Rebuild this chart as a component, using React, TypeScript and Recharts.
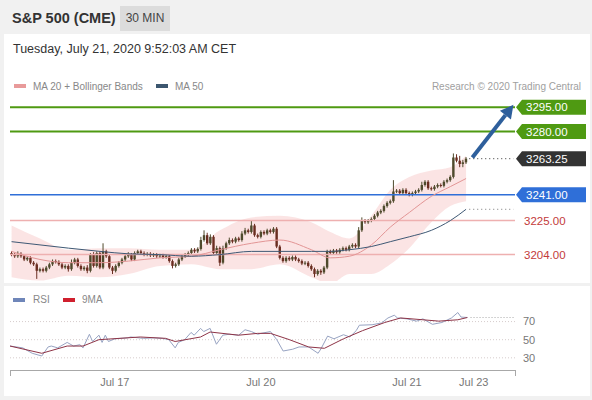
import React from "react";
import { Area, Bar, ComposedChart, Line, ReferenceLine, XAxis, YAxis } from "recharts";

// 30 min closes, S&P 500 futures, Jul 16 -> Jul 21 09:30
const closes = [
  3204, 3203, 3204.5, 3203, 3201, 3202, 3199, 3198, 3194, 3195,
  3194, 3196, 3198, 3200, 3199.5, 3198, 3196, 3197, 3195, 3199,
  3201, 3197, 3195, 3196, 3194, 3204, 3197, 3205, 3196, 3206,
  3203, 3196, 3194, 3197, 3199, 3201, 3203, 3204, 3201, 3205,
  3206, 3205, 3204, 3204.5, 3203.5, 3204, 3203, 3203.5, 3202.5, 3203,
  3200, 3197, 3198, 3201, 3203, 3204, 3205, 3207, 3206, 3207.5,
  3213, 3216, 3211, 3215, 3205, 3208, 3199, 3208, 3211, 3213,
  3212, 3214, 3213, 3217, 3219, 3218, 3222, 3216, 3215, 3218,
  3217, 3219, 3218, 3220, 3209, 3202, 3200, 3202, 3201, 3202.5,
  3201, 3200, 3198.5, 3199, 3197, 3195, 3192, 3194, 3193, 3196,
  3206, 3205, 3206.5, 3205.5, 3207, 3208, 3207, 3209, 3210, 3209,
  3219, 3225, 3224, 3225, 3226, 3228, 3230, 3231, 3234, 3236,
  3237, 3243, 3243.5, 3242, 3244, 3242, 3241, 3242, 3243, 3244,
  3247, 3249, 3245, 3244.5, 3246, 3247, 3246.5, 3249, 3250, 3252,
  3264, 3262, 3260, 3261, 3263.25,
];
const firstOpen = 3205;
const upWick = [
  1, 1, 1.5, 1, 1, 1, 1, 1, 1, 1,
  1, 1, 1, 1, 1, 1, 1, 1, 1, 2,
  1, 1, 1, 1, 1.5, 1, 1.5, 1, 1, 5,
  1, 1, 1, 1, 1, 1, 1, 1.5, 1, 1,
  1, 1, 1, 1, 1, 1, 1, 1, 1, 1,
  1, 1, 1, 1, 1, 1, 1, 1, 1, 1,
  2, 3, 1.5, 1.5, 1, 1.5, 1, 1.5, 1, 1.5,
  1, 1, 1, 1.5, 1.5, 1, 3, 1, 1, 1,
  1, 1, 1, 1, 1, 1, 1, 1, 1, 1,
  1, 1, 1, 1, 1, 1, 1, 1, 1, 1,
  1, 1, 1, 1, 1, 1, 1, 1, 1, 1,
  2, 2, 1, 1, 1, 1, 1, 1, 1, 1,
  1, 7, 1, 1, 1, 1, 1, 1, 1, 1,
  2, 1, 1, 1, 1, 1, 1, 1, 1, 1,
  2.5, 2, 3, 1.5, 1,
];
const downWick = [
  1, 1, 1, 1, 1, 1, 1, 1, 5, 1,
  1, 1, 1, 1, 1, 1, 1, 1, 1.5, 1,
  1, 1, 1, 1, 1.5, 1, 1, 1, 1, 1,
  1, 1, 2, 1, 1, 1, 1, 1, 1, 1,
  1, 1, 1, 1, 1, 1, 1, 1, 1, 1,
  1, 1.5, 1, 1, 1, 1, 1, 1, 1, 1,
  1, 1, 1, 1, 1, 1, 2, 1, 1, 1,
  1, 1, 1, 1, 1, 1, 1, 1, 1, 1,
  1, 1, 1, 1, 1, 1, 1, 1, 1, 1,
  1, 1, 1, 1, 1, 1, 2, 1, 1.5, 1,
  1, 1, 1, 1, 1, 1, 1, 1, 1, 1,
  1, 1, 1, 1, 1, 1, 1, 1, 1, 1,
  1, 1, 1, 1, 1, 1, 1, 1, 1, 1,
  1, 1, 1, 1, 1, 1, 1, 1, 1, 1,
  1, 1, 2, 2, 1,
];

// [bar index, value]
const ma20Pts = [
  [0, 3206], [9, 3201], [18, 3199], [28, 3199], [37, 3200], [47, 3202], [57, 3203],
  [66, 3207], [76, 3211], [85, 3213], [95, 3207], [101, 3202], [107, 3203], [114, 3210],
  [120, 3221], [126, 3230], [133, 3240], [139, 3246], [144, 3251],
];
const ma50Pts = [
  [0, 3212], [9, 3210], [18, 3208], [28, 3206], [37, 3204.5], [47, 3204], [57, 3203],
  [66, 3204], [76, 3206], [85, 3206], [95, 3206], [101, 3206], [107, 3207], [114, 3209],
  [120, 3212], [126, 3215], [133, 3219], [139, 3225], [144, 3232],
];
// [bar index, lower, upper]
const bandPts = [
  [0, 3190, 3222], [9, 3188, 3214], [18, 3191, 3207], [28, 3190, 3208], [37, 3192, 3208],
  [47, 3197, 3207], [57, 3198, 3207], [66, 3195, 3219], [76, 3195, 3227], [85, 3198, 3228],
  [95, 3190, 3224], [101, 3186, 3218], [107, 3192, 3214], [114, 3192, 3228], [120, 3198, 3244],
  [126, 3208, 3252], [133, 3224, 3256], [139, 3234, 3258], [144, 3237, 3265],
];
const rsiPts = [
  [0, 43], [4, 41], [7, 35], [10, 32], [12, 42], [13, 43], [15, 41], [17, 45], [18, 47],
  [20, 43], [22, 44.5], [23, 41], [25, 56], [26, 48], [28, 55], [29, 47], [30, 55], [31, 48],
  [33, 51], [37, 52], [38, 53], [42, 51.5], [45, 52], [48, 51.5], [50, 50], [52, 41], [53, 47],
  [55, 50], [57, 58], [58, 55], [60, 62.5], [61, 59], [63, 62.5], [65, 45], [67, 55], [69, 56],
  [72, 55], [74, 61], [76, 59], [78, 56], [79, 57], [82, 59], [84, 50], [86, 37.5], [89, 39.5],
  [91, 42], [94, 42], [97, 35], [98, 40.5], [100, 54], [102, 51], [105, 55.5], [107, 53],
  [109, 60], [110, 66], [114, 66.5], [117, 68.5], [119, 74], [121, 77], [122, 74], [125, 73],
  [128, 70.5], [130, 73], [133, 67], [136, 69], [139, 74], [141, 80], [142, 75], [144, 74.5],
];
const rsiMaPts = [
  [0, 43], [10, 35], [18, 43], [23, 43], [28, 50], [41, 53], [49, 51.5], [52, 48], [60, 53],
  [63, 58.5], [72, 55], [78, 57], [82, 57], [88, 50], [94, 42], [99, 40.5], [105, 51],
  [111, 60], [118, 69], [123, 74], [130, 72], [135, 70.5], [141, 72], [144, 74.5],
];

const targets = [3295, 3280];
const pivot = 3241;
const supports = [3225, 3204];
const lastPrice = 3263.25;
const rsiLevels = [30, 50, 70];
const dateTicks = [33, 79, 125, 146];
const dateLabels = ["Jul 17", "Jul 20", "Jul 21", "Jul 23"];
const SLOTS = 160;

const GREEN = "#4f9a12";
const BLUE = "#2f6fd8";
const PINK = "#eeb0b0";
const UP = "#4f4a2c";
const DOWN = "#6a2d20";
const FONT = '"Liberation Sans", Arial, sans-serif';

const last = closes.length - 1;
const rows: any[] = Array.from({ length: SLOTS }, (_, i) => ({ i }));
closes.forEach((c, i) => {
  const o = i === 0 ? firstOpen : closes[i - 1];
  const h = Math.max(o, c) + upWick[i];
  const l = Math.min(o, c) - downWick[i];
  Object.assign(rows[i], { o, c, h, l, range: [l, h] });
});
ma20Pts.forEach(([i, v]) => (rows[i].ma20 = v));
ma50Pts.forEach(([i, v]) => (rows[i].ma50 = v));
bandPts.forEach(([i, lo, hi]) => (rows[i].band = [lo, hi]));

const rsiRows: any[] = Array.from({ length: SLOTS }, (_, i) => ({ i }));
rsiPts.forEach(([i, v]) => (rsiRows[i].rsi = v));
rsiMaPts.forEach(([i, v]) => (rsiRows[i].ma9 = v));

function Candle(props: any) {
  const { x, y, width, height, payload } = props;
  if (!payload || payload.h == null) return null;
  const top = Math.min(y, y + height);
  const bot = Math.max(y, y + height);
  const k = (bot - top) / (payload.h - payload.l);
  const cx = x + width / 2;
  const yo = top + (payload.h - payload.o) * k;
  const yc = top + (payload.h - payload.c) * k;
  const color = payload.c >= payload.o ? UP : DOWN;
  return (
    <g>
      <line x1={cx} x2={cx} y1={top} y2={bot} stroke={color} strokeWidth={1} />
      <rect x={cx - 1.2} y={Math.min(yo, yc)} width={2.4} height={Math.max(1, Math.abs(yc - yo))} fill={color} />
    </g>
  );
}

function Tag(props: any) {
  const { viewBox, text, color } = props;
  if (!viewBox) return null;
  const x0 = viewBox.x + viewBox.width + 1;
  const y = viewBox.y;
  const pts = `${x0},${y} ${x0 + 6},${y - 7.5} ${x0 + 70},${y - 7.5} ${x0 + 70},${y + 7.5} ${x0 + 6},${y + 7.5}`;
  return (
    <g>
      <polygon points={pts} fill={color} />
      <text x={x0 + 10} y={y + 4} fill="#fff" fontSize={11.5} fontFamily={FONT}>{text}</text>
    </g>
  );
}

function PlainTag(props: any) {
  const { viewBox, text } = props;
  if (!viewBox) return null;
  return (
    <text x={viewBox.x + viewBox.width + 9} y={viewBox.y + 4} fill="#c33a3a" fontSize={11.5} fontFamily={FONT}>{text}</text>
  );
}

function Arrow(props: any) {
  const { x1, y1, x2, y2 } = props;
  const a = Math.atan2(y2 - y1, x2 - x1);
  const L = 13;
  const W = 7;
  const bx = x2 - L * Math.cos(a);
  const by = y2 - L * Math.sin(a);
  const px = -Math.sin(a) * W;
  const py = Math.cos(a) * W;
  return (
    <g>
      <line x1={x1} y1={y1} x2={bx} y2={by} stroke="#2e5f9c" strokeWidth={4} />
      <polygon points={`${x2},${y2} ${bx + px},${by + py} ${bx - px},${by - py}`} fill="#2e5f9c" />
    </g>
  );
}

function PriceChart() {
  return (
    <ComposedChart width={592} height={290} data={rows} margin={{ top: 95, right: 77, bottom: 9, left: 10 }}>
      <XAxis dataKey="i" hide />
      <YAxis hide domain={[3187.7, 3302.6]} allowDataOverflow />
      <Area dataKey="band" type="monotone" connectNulls stroke="none" fill="#f6c4c4" fillOpacity={0.45} isAnimationActive={false} />
      {targets.map((v) => (
        <ReferenceLine key={v} y={v} stroke={GREEN} strokeWidth={2} label={<Tag text={v.toFixed(2)} color={GREEN} />} />
      ))}
      <ReferenceLine y={pivot} stroke={BLUE} strokeWidth={1.5} label={<Tag text={pivot.toFixed(2)} color={BLUE} />} />
      {supports.map((v) => (
        <ReferenceLine key={v} y={v} stroke={PINK} strokeWidth={1.5} label={<PlainTag text={v.toFixed(2)} />} />
      ))}
      <Line dataKey="ma20" type="monotone" connectNulls stroke="#e29595" strokeWidth={1} dot={false} isAnimationActive={false} />
      <Line dataKey="ma50" type="monotone" connectNulls stroke="#3e5874" strokeWidth={1} dot={false} isAnimationActive={false} />
      <Bar dataKey="range" shape={Candle} barSize={3} isAnimationActive={false} />
      <ReferenceLine segment={[{ x: last + 1, y: ma50Pts[ma50Pts.length - 1][1] }, { x: SLOTS - 1, y: ma50Pts[ma50Pts.length - 1][1] }]} stroke="#777" strokeDasharray="1 3" />
      <ReferenceLine segment={[{ x: last + 1, y: lastPrice }, { x: SLOTS - 1, y: lastPrice }]} stroke="#333" strokeDasharray="1 3" />
      <ReferenceLine y={lastPrice} stroke="none" label={<Tag text={lastPrice.toFixed(2)} color="#333" />} />
      <ReferenceLine segment={[{ x: last + 2, y: 3264 }, { x: SLOTS - 1, y: 3296.5 }]} shape={Arrow} />
    </ComposedChart>
  );
}

function RsiChart() {
  return (
    <ComposedChart width={592} height={111} data={rsiRows} margin={{ top: 23, right: 0, bottom: 0, left: 10 }}>
      <XAxis
        dataKey="i"
        ticks={dateTicks}
        interval={0}
        height={25.5}
        axisLine={false}
        tickLine={false}
        tick={{ fontSize: 11, fill: "#777", fontFamily: FONT }}
        tickFormatter={(v: number) => dateLabels[dateTicks.indexOf(v)]}
      />
      <YAxis
        orientation="right"
        width={77}
        domain={[16, 85]}
        ticks={rsiLevels}
        axisLine={false}
        tickLine={false}
        tick={{ fontSize: 11, fill: "#777", fontFamily: FONT }}
      />
      {rsiLevels.map((v) => (
        <ReferenceLine key={v} y={v} stroke="#d6cccc" strokeDasharray="1 2" />
      ))}
      <ReferenceLine segment={[{ x: last + 1, y: rsiPts[rsiPts.length - 1][1] }, { x: SLOTS - 1, y: rsiPts[rsiPts.length - 1][1] }]} stroke="#aaa" strokeDasharray="1 2" />
      <Line dataKey="rsi" type="linear" connectNulls stroke="#97a3c2" strokeWidth={1} dot={false} isAnimationActive={false} />
      <Line dataKey="ma9" type="linear" connectNulls stroke="#8e3447" strokeWidth={1} dot={false} isAnimationActive={false} />
    </ComposedChart>
  );
}

const legendText: React.CSSProperties = { position: "absolute", fontSize: 10, color: "#888" };
const swatch = (left: number, top: number, color: string): React.CSSProperties => ({
  position: "absolute", left, top, width: 12, height: 4, background: color,
});

export default function App() {
  return (
    <div style={{ position: "fixed", left: 0, top: 0, width: 592, height: 400, background: "#f1f1f1", overflow: "hidden", fontFamily: FONT }}>
      <div style={{ position: "absolute", left: 12, top: 10, fontSize: 14.5, fontWeight: "bold", color: "#333" }}>S&amp;P 500 (CME)</div>
      <div style={{ position: "absolute", left: 120, top: 6, width: 50, height: 25, background: "#dcdcdc", color: "#444", fontSize: 12, lineHeight: "25px", textAlign: "center" }}>30 MIN</div>
      <div style={{ position: "absolute", left: 4, top: 34, width: 586, height: 249, background: "#fff" }} />
      <div style={{ position: "absolute", left: 4, top: 286, width: 586, height: 110, background: "#fff" }} />
      <div style={{ position: "absolute", left: 13, top: 42, fontSize: 12.5, color: "#333" }}>Tuesday, July 21, 2020 9:52:03 AM CET</div>
      <div style={swatch(14, 84, "#e89a9a")} />
      <div style={{ ...legendText, left: 33, top: 80.5 }}>MA 20 + Bollinger Bands</div>
      <div style={swatch(156, 84, "#3c566f")} />
      <div style={{ ...legendText, left: 175, top: 80.5 }}>MA 50</div>
      <div style={{ ...legendText, right: 11, top: 80.5, color: "#a0a0a0" }}>Research © 2020 Trading Central</div>
      <div style={swatch(13, 298, "#6f86b9")} />
      <div style={{ ...legendText, left: 33, top: 293.5 }}>RSI</div>
      <div style={swatch(63, 298, "#d0202e")} />
      <div style={{ ...legendText, left: 82, top: 293.5 }}>9MA</div>
      <div style={{ position: "absolute", left: 10, top: 370, width: 504, height: 5, borderTop: "1.5px solid #a8a8a8", borderLeft: "1.5px solid #a8a8a8", borderRight: "1.5px solid #a8a8a8" }} />
      <div style={{ position: "absolute", left: 0, top: 0 }}>
        <PriceChart />
      </div>
      <div style={{ position: "absolute", left: 0, top: 285 }}>
        <RsiChart />
      </div>
    </div>
  );
}
